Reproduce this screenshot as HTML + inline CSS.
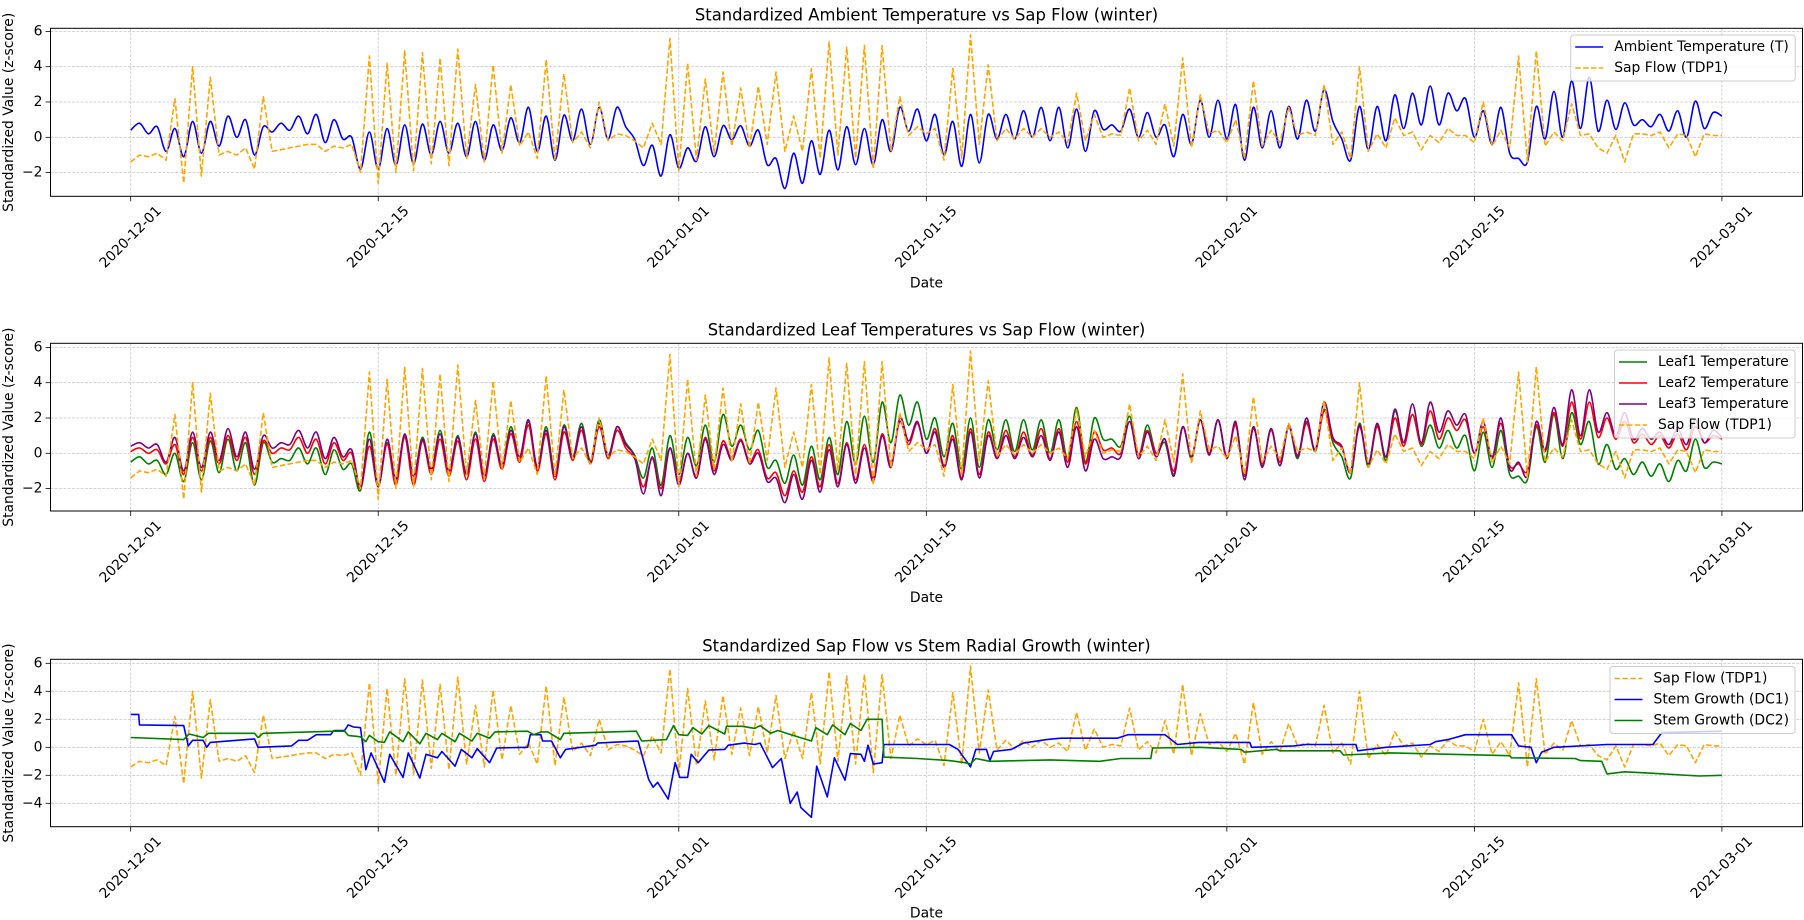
<!DOCTYPE html>
<html><head><meta charset="utf-8"><title>Standardized winter time series</title>
<style>
html,body{margin:0;padding:0;background:#fff;}
svg{display:block;font-family:"DejaVu Sans","Liberation Sans",sans-serif;}
</style></head>
<body>
<svg id="chart" width="1804" height="920" viewBox="0 0 1804 920" xmlns="http://www.w3.org/2000/svg">
<rect x="0" y="0" width="1804" height="920" fill="#fff"/>
</svg>
<script>
// ---------- data (x = day offset from 2020-12-01) ----------
const tickLabels = ["2020-12-01","2020-12-15","2021-01-01","2021-01-15","2021-02-01","2021-02-15","2021-03-01"];
const tickDays = [0,14,31,45,62,76,90];
const stepDays = 0.5;
const ambientT = [0.4,0.8,0.2,0.6,-0.8,0.5,-1.1,0.9,-0.9,0.9,-0.5,1.2,0,1.0,-1.0,0.6,0.3,0.8,0.4,1.2,0.2,1.3,-0.3,1.0,-0.1,0,-1.8,0.3,
-1.8,0.5,-1.6,0.7,-1.5,0.75,-1.0,0.9,-0.9,0.8,-1.1,0.9,-1.3,0.7,-0.75,1.1,-0.3,1.7,-0.8,1.2,-1.3,1.25,-0.2,1.6,-0.4,1.7,-0.1,1.7,0.6,-0.1,
-1.6,-0.45,-2.2,0.15,-1.75,-0.6,-1.35,0.6,-1.1,0.65,-0.15,0.65,-0.5,0.4,-1.55,-1.2,-2.9,-0.9,-2.6,-0.2,-2.1,0.4,-1.85,0.6,-1.55,0.5,-1.55,1.0,-0.8,1.7,0.35,1.6,-0.2,1.3,-1.0,0.9,-1.65,1.3,-1.45,1.3,-0.1,1.3,-0.1,1.5,0,1.7,-0.2,1.7,
-0.6,1.6,-0.8,1.5,0.45,0.7,0.35,1.6,0,1.4,0,0.7,-1.1,1.3,-0.4,2.1,0,2.1,-0.1,1.85,-1.3,1.7,-0.6,1.5,-0.6,1.75,-0.1,2.1,0.35,2.7,0.9,-0.1,-1.3,1.75,-0.7,1.75,-0.2,2.4,0.5,2.5,0.7,2.9,0.7,2.5,1.5,2.2,0,1.5,-0.4,1.7,-0.9,-1.2,-1.4,1.75,-0.1,2.6,0,3.2,0.5,3.4,0.35,2.1,0.45,1.95,0.7,1.0,0.6,1.3,0.35,1.5,0,2.05,0.5,1.4,1.2];
const sapFlow = [-1.4,-1.0,-1.1,-0.9,-1.3,2.2,-2.6,4.0,-2.2,3.4,-1.0,-0.8,-1.0,-0.6,-1.8,2.3,-0.8,-0.7,-0.6,-0.5,-0.4,-0.4,-0.8,-0.5,-0.6,-0.4,-2.0,4.6,
-2.6,4.2,-2.0,4.9,-1.9,4.8,-1.5,4.5,-1.6,5.0,-1.2,3.0,-1.4,4.1,-0.9,3.0,-0.5,0.3,-1.2,4.4,-1.3,3.6,-0.3,0.3,-0.6,2.0,-0.2,0.2,0.1,-0.2,
-0.6,0.8,-0.4,5.6,-1.9,4.2,-1.3,3.3,-0.9,3.7,-0.5,2.8,-0.6,2.9,-0.4,3.7,-0.8,1.2,-0.8,3.9,-1.2,5.4,-1.0,5.1,-1.2,5.2,-1.8,5.2,-0.8,2.3,0.1,0.6,0.2,0.5,-1.3,3.9,-1.2,5.8,-0.4,4.1,-0.2,0.5,-0.1,0.5,0,0.5,0,0.3,
-0.3,2.5,-0.2,1.3,0,0.2,0.1,2.8,-0.2,0.4,-0.4,1.9,-0.5,4.5,-0.6,2.4,0.2,0.4,-0.3,1.0,-1.2,3.2,-0.5,0.4,-0.3,1.7,0.1,0.3,0.1,3.0,-0.4,0.3,-1.2,4.0,-0.8,0.2,-0.6,1.1,0.1,0.3,-0.7,0.1,-0.3,0.5,0.1,0.1,-0.3,2.0,-0.5,0.4,-0.6,4.6,-1.4,4.9,-0.5,0.3,-0.2,1.9,0.1,0.2,-0.6,-0.9,0.1,-1.4,0.2,0.2,0.1,0.3,-0.6,0.2,0.1,-1.1,0.2,0.1,0.1];
const leaf1 = [-0.5,-0.2,-0.6,-0.4,-1.2,0,-1.6,0.6,-1.5,0.7,-1.1,0.8,-1.0,0.6,-1.8,0.6,-0.5,-0.3,-0.4,0.3,-0.6,0.3,-1.2,0.2,-0.9,-0.6,-2.1,1.2,
-1.8,0.6,-1.4,1.0,-1.3,0.9,-0.9,1.3,-1.0,1.0,-1.2,1.2,-1.3,1.1,-0.7,1.5,-0.3,1.8,-0.8,1.5,-1.2,1.6,-0.2,1.7,-0.4,1.9,-0.1,1.5,0.6,-0.1,
-1.4,0.3,-1.8,1.0,-1.2,0.9,-0.7,1.6,-0.5,2.2,0.4,1.6,0.2,1.3,-0.8,-0.4,-1.7,-0.1,-1.8,0.4,-1.5,0.9,-1.2,1.8,-0.6,2.1,-0.5,2.9,0.6,3.3,1.6,2.9,0.8,2.0,-0.2,1.7,-0.9,2.0,-0.8,1.9,0.2,1.9,0.1,1.9,0.2,1.9,0,1.9,
-0.3,2.6,-0.5,2.0,0.8,0.8,0.4,2.1,-0.1,1.6,0,0.6,-1.2,1.5,-0.3,1.9,-0.1,1.9,-0.3,1.7,-1.3,1.5,-0.7,1.4,-0.7,1.5,-0.3,1.8,0.1,2.5,0.6,-0.2,-1.4,1.7,-0.8,1.6,-0.4,2.4,0.6,2.2,0.4,1.6,0.3,1.3,0.3,1.0,-1.0,1.2,-0.8,1.3,-1.2,-1.3,-1.5,1.5,-0.5,2.2,-0.3,2.3,0.5,1.8,-0.6,0.5,-0.9,-0.3,-1.2,-0.5,-1.3,-0.6,-1.6,-0.4,-1.0,0.8,-0.8,-0.5,-0.6];
const leaf2 = [0.1,0.3,0,0.2,-0.6,0.5,-1.2,0.9,-1.0,0.9,-0.6,1.0,-0.4,0.9,-1.2,0.7,0,0.3,0.2,0.9,0,0.8,-0.6,0.6,-0.4,0,-2.0,0.4,
-1.9,0.5,-1.8,0.9,-1.8,0.7,-1.2,0.8,-1.3,0.7,-1.5,0.8,-1.6,0.8,-0.9,1.1,-0.5,1.6,-1.0,1.1,-1.5,1.2,-0.4,1.3,-0.6,1.5,-0.3,1.3,0.3,-0.3,
-1.9,-0.3,-2.0,0.3,-1.6,0,-1.3,0.9,-1.0,0.7,-0.3,0.8,-0.5,0.2,-1.4,-1.1,-2.4,-1.0,-2.2,-0.2,-1.9,0.5,-1.7,0.6,-1.5,0.5,-1.4,1.1,-0.6,1.8,0.5,1.7,0,1.4,-0.7,1.0,-1.4,1.4,-1.2,1.2,-0.2,1.3,-0.2,1.2,-0.1,1.4,-0.3,1.4,
-0.5,1.8,-0.6,1.2,0.2,0.3,0,1.8,-0.1,1.3,0,0.8,-1.0,1.5,-0.2,1.9,0,1.9,-0.2,1.6,-1.2,1.4,-0.6,1.3,-0.5,1.5,-0.1,1.7,0.2,2.4,0.8,0.3,-1.0,1.5,-0.6,1.5,-0.2,2.0,0.4,2.2,0.5,2.4,0.8,2.0,1.3,1.9,0,1.5,-0.2,1.7,-0.7,-0.6,-1.0,1.6,0.1,2.3,0.4,2.9,0.8,2.9,0.9,2.0,0.8,1.8,0.6,1.1,0.5,1.0,0.3,1.1,0.2,1.5,0.6,1.0,0.8];
const leaf3 = [0.4,0.6,0.3,0.5,-0.5,0.9,-1.0,1.2,-0.8,1.2,-0.4,1.4,-0.2,1.2,-0.9,1.0,0.3,0.6,0.5,1.3,0.3,1.2,-0.3,0.9,-0.2,0.2,-1.9,0.8,
-1.9,0.8,-1.5,1.1,-1.3,0.8,-0.9,1.1,-1.0,0.9,-1.2,1.1,-1.3,1.0,-0.7,1.3,-0.2,1.9,-0.8,1.3,-1.3,1.5,-0.3,1.5,-0.5,1.7,-0.2,1.5,0.5,-0.2,
-2.3,-0.2,-2.4,0.3,-1.8,0,-1.4,0.8,-1.2,0.5,-0.4,0.7,-0.6,0,-1.6,-1.4,-2.8,-1.2,-2.6,-0.4,-2.2,0.2,-1.9,0.5,-1.7,0.3,-1.6,1.0,-0.8,2.0,0.7,1.8,0,1.2,-0.8,0.8,-1.5,1.2,-1.4,1.0,-0.3,1.0,-0.3,0.9,-0.2,1.0,-0.4,1.2,
-0.8,1.5,-1.0,0.8,-0.3,-0.2,-0.2,1.8,-0.3,1.2,-0.2,0.8,-1.3,1.5,-0.2,1.9,-0.1,1.9,-0.3,1.8,-1.5,1.5,-0.8,1.4,-0.7,1.6,-0.2,2.0,0.2,2.9,0.9,0.4,-1.1,1.6,-0.6,1.7,-0.2,2.5,0.6,2.8,0.6,2.9,1.2,2.4,1.6,2.2,0,1.8,-0.3,2.0,-0.9,-0.5,-1.3,1.8,0.2,2.6,0.5,3.6,1.0,3.6,1.2,2.3,1.0,2.3,0.8,1.4,0.8,1.2,0.5,1.4,0.5,1.9,0.6,1.3,0.9];
const dc1Days = [0,0.45,0.5,3.0,3.26,3.5,4.1,4.3,4.5,6.0,7.0,7.2,9.1,9.5,10.0,10.5,11.3,11.5,12.1,12.3,12.6,13.0,13.3,13.6,14.35,14.65,15.4,15.7,16.35,16.7,17.35,17.6,18.35,18.7,19.3,19.6,20.3,20.7,22.45,22.6,23.2,23.3,23.8,24.3,24.6,26.3,26.4,28.7,29.3,29.55,29.8,30.4,30.8,31.05,31.5,31.7,32.1,32.7,33.6,33.8,34.7,35.3,35.6,36.3,36.8,37.3,37.7,37.9,38.5,38.8,39.4,39.8,40.4,40.7,41.3,41.5,41.7,42.0,42.5,42.6,46.3,46.8,47.5,47.8,48.4,48.6,48.8,49.8,50.5,51.8,52.6,55.8,56.4,58.5,59.2,60.4,63.3,63.4,65.8,66.5,69.3,69.4,71,73.5,73.8,74.5,75.5,78.1,78.5,79.2,79.5,79.8,80.5,83.5,86.1,86.6,90];
const dc1Values = [2.35,2.35,1.6,1.55,0.1,0.5,0.5,0,0.35,0.5,0.6,0,0.1,0.5,0.5,0.9,0.9,1.2,1.2,1.6,1.45,1.4,-1.6,-0.4,-2.5,-0.5,-2.15,-0.4,-2.2,-0.5,-0.75,-0.3,-1.35,-0.15,-0.75,-0.1,-1.1,-0.05,0,0.9,0.9,0.45,0.45,-0.75,-0.15,0.15,0.3,0.45,-2.3,-2.85,-2.5,-3.7,-1.1,-2.15,-2.15,-0.5,-1.1,-0.2,-0.15,0.15,0.3,0.2,0.3,-1.45,-0.8,-4.0,-3.2,-4.3,-5.0,-1.35,-3.55,-0.75,-2.35,-0.45,-0.5,-1.0,0.15,-1.2,-1.1,0.2,0.2,-0.15,-1.4,-0.15,-0.15,-0.95,-0.3,-0.15,0.3,0.55,0.65,0.65,0.9,0.9,0.2,0.35,0.35,0,0.1,0.2,0.2,-0.25,0,0.2,0.4,0.55,0.9,0.9,0.1,0,-1.1,-0.35,0,0.2,0.2,1.05,1.15];
const dc2Days = [0,3.0,3.3,4.1,4.4,7.0,7.2,7.5,11.5,12.1,12.3,13.0,13.3,13.5,14.0,14.35,14.65,15.4,15.7,16.35,16.7,17.35,17.6,18.35,18.6,19.3,19.6,20.3,20.6,22.45,22.8,23.2,23.6,24.3,24.5,28.6,28.9,30.3,30.7,31.0,31.5,31.8,32.3,32.7,33.6,33.7,34.6,35.3,35.6,36.2,36.6,37.6,38.5,38.75,39.4,39.7,40.4,40.7,41.3,41.65,42.5,42.6,44.5,46.3,47.2,47.5,47.8,48.6,52.0,54.8,56.0,57.7,57.8,60.5,62.8,63.0,64.8,65.0,68.4,68.6,70.5,71.2,78.0,78.1,81.7,82.0,83.2,83.5,84.5,86.0,88.7,90];
const dc2Values = [0.7,0.55,0.95,0.7,1.0,1.0,0.7,1.0,1.15,1.15,0.85,0.75,0.4,0.85,0.4,0.35,1.1,0.4,1.1,0.25,1.0,0.55,1.0,0.4,1.0,0.45,1.0,0.65,1.1,1.15,0.9,1.1,1.1,0.55,1.0,1.15,0.45,0.55,1.55,0.9,0.85,1.4,0.95,1.55,0.95,1.5,1.5,1.35,1.55,1.0,1.2,0.8,0.45,1.4,0.9,1.6,0.9,1.7,1.2,2.0,2.0,-0.7,-0.8,-0.95,-1.1,-1.2,-0.8,-1.0,-0.9,-1.0,-0.8,-0.8,-0.05,0,-0.15,-0.35,-0.15,-0.25,-0.25,-0.55,-0.45,-0.4,-0.6,-0.75,-0.8,-0.95,-1.0,-1.9,-1.75,-1.85,-2.05,-2.0];
const yTicks12 = [-2,0,2,4,6];
const yTicks3 = [-4,-2,0,2,4,6];

// ---------- layout ----------
const NS = "http://www.w3.org/2000/svg";
const svg = document.getElementById("chart");
const AX_L = 50.5, AX_R = 1802.5;
const DAY0_X = 130.7, PX_PER_DAY = 17.68;
function xScale(d){ return DAY0_X + d*PX_PER_DAY; }
const panels = [
  {id:"ambient", top:28.3, bottom:196.3, zeroY:137.3, unit:17.65, ticks:yTicks12, title:"Standardized Ambient Temperature vs Sap Flow (winter)"},
  {id:"leaf", top:343.3, bottom:511, zeroY:453.3, unit:17.65, ticks:yTicks12, title:"Standardized Leaf Temperatures vs Sap Flow (winter)"},
  {id:"growth", top:659.3, bottom:826.7, zeroY:747.3, unit:14.0, ticks:yTicks3, title:"Standardized Sap Flow vs Stem Radial Growth (winter)"}
];
function mk(tag, attrs, parent){
  const e = document.createElementNS(NS, tag);
  for (const k in attrs) e.setAttribute(k, attrs[k]);
  (parent||svg).appendChild(e);
  return e;
}
function seriesPoints(p, days, vals){
  const pts = [];
  for (let i=0;i<vals.length;i++){
    pts.push([xScale(days ? days[i] : i*stepDays), p.zeroY - vals[i]*p.unit]);
  }
  return pts;
}
function linearPath(pts){
  return pts.map(function(q,i){ return (i?"L":"M")+q[0].toFixed(1)+","+q[1].toFixed(1); }).join("");
}
function smoothPath(pts){
  let d = "M"+pts[0][0].toFixed(1)+","+pts[0][1].toFixed(1);
  const k = 0.5/3;
  for (let i=0;i<pts.length-1;i++){
    const p0 = pts[Math.max(0,i-1)], p1 = pts[i], p2 = pts[i+1], p3 = pts[Math.min(pts.length-1,i+2)];
    const c1x = p1[0] + (p2[0]-p0[0])*k, c1y = p1[1] + (p2[1]-p0[1])*k;
    const c2x = p2[0] - (p3[0]-p1[0])*k, c2y = p2[1] - (p3[1]-p1[1])*k;
    d += "C"+c1x.toFixed(1)+","+c1y.toFixed(1)+" "+c2x.toFixed(1)+","+c2y.toFixed(1)+" "+p2[0].toFixed(1)+","+p2[1].toFixed(1);
  }
  return d;
}
const defs = mk("defs", {});
panels.forEach(function(p, pi){
  const g = mk("g", {});
  
  
  const cp = mk("clipPath", {id:"clip-"+p.id}, defs);
  mk("rect", {x:AX_L, y:p.top, width:AX_R-AX_L, height:p.bottom-p.top}, cp);
  const gg = mk("g", {stroke:"#b0b0b0", "stroke-width":"0.8", "stroke-dasharray":"3,1.3", opacity:"0.7"}, g);
  
  
  tickDays.forEach(function(d){
    const x = xScale(d);
    mk("line", {x1:x, x2:x, y1:p.top, y2:p.bottom}, gg);
  });
  p.ticks.forEach(function(v){
    const y = p.zeroY - v*p.unit;
    mk("line", {x1:AX_L, x2:AX_R, y1:y, y2:y}, gg);
  });
  const sg = mk("g", {"clip-path":"url(#clip-"+p.id+")", fill:"none", "stroke-width":"1.6", "stroke-linejoin":"round"}, g);
  
  
  function line(name, days, vals, color, dash, smooth){
    const pts = seriesPoints(p, days, vals);
    const el = mk("path", {d: smooth ? smoothPath(pts) : linearPath(pts), stroke:color}, sg);
    if (dash) el.setAttribute("stroke-dasharray", "5.5,2.4");
    
    
  }
  if (pi===0){
    line("ambient-temperature-line", null, ambientT, "#0000ff", false, true);
    line("sap-flow-line", null, sapFlow, "#ffa500", true, false);
  } else if (pi===1){
    line("leaf1-temperature-line", null, leaf1, "#008000", false, true);
    line("leaf2-temperature-line", null, leaf2, "#ff0000", false, true);
    line("leaf3-temperature-line", null, leaf3, "#800080", false, true);
    line("sap-flow-line", null, sapFlow, "#ffa500", true, false);
  } else {
    line("sap-flow-line", null, sapFlow, "#ffa500", true, false);
    line("stem-growth-dc1-line", dc1Days, dc1Values, "#0000ff", false, false);
    line("stem-growth-dc2-line", dc2Days, dc2Values, "#008000", false, false);
  }
  const fr = mk("rect", {x:AX_L, y:p.top, width:AX_R-AX_L, height:p.bottom-p.top, fill:"none", stroke:"#000", "stroke-width":"1"}, g);
  
  
  p.ticks.forEach(function(v){
    const y = p.zeroY - v*p.unit;
    mk("line", {x1:AX_L-4.9, x2:AX_L, y1:y, y2:y, stroke:"#000", "stroke-width":"0.8"}, g);
    const t = mk("text", {x:AX_L-8, y:y, "text-anchor":"end", "dominant-baseline":"central", "font-size":"13.9", fill:"#000"}, g);
    t.textContent = v<0 ? "\u2212"+Math.abs(v) : String(v);
    
    
  });
  tickDays.forEach(function(d, i){
    const x = xScale(d);
    mk("line", {x1:x, x2:x, y1:p.bottom, y2:p.bottom+4.9, stroke:"#000", "stroke-width":"0.8"}, g);
    const cy = p.bottom + 41;
    const t = mk("text", {x:x, y:cy, "text-anchor":"middle", "dominant-baseline":"central", "font-size":"13.9", fill:"#000", transform:"rotate(-45 "+x+" "+cy+")"}, g);
    t.textContent = tickLabels[i];
    
    
  });
  const tt = mk("text", {x:(AX_L+AX_R)/2, y:p.top-8, "text-anchor":"middle", "font-size":"16.4", fill:"#000"}, g);
  tt.textContent = p.title;
  
  
  const xl = mk("text", {x:(AX_L+AX_R)/2, y:p.bottom+91, "text-anchor":"middle", "font-size":"13.9", fill:"#000"}, g);
  xl.textContent = "Date";
  
  
  const my = (p.top+p.bottom)/2;
  const yl = mk("text", {x:9, y:my, "text-anchor":"middle", "dominant-baseline":"central", "font-size":"13.9", fill:"#000", transform:"rotate(-90 9 "+my+")"}, g);
  yl.textContent = "Standardized Value (z-score)";
  
  
});

const legends = [
  {panel:"ambient", x:1570.7, y:35, w:224.5, entries:[["Ambient Temperature (T)","#0000ff",false],["Sap Flow (TDP1)","#ffa500",true]]},
  {panel:"leaf", x:1614.5, y:350, w:180.5, entries:[["Leaf1 Temperature","#008000",false],["Leaf2 Temperature","#ff0000",false],["Leaf3 Temperature","#800080",false],["Sap Flow (TDP1)","#ffa500",true]]},
  {panel:"growth", x:1610, y:666.5, w:185, entries:[["Sap Flow (TDP1)","#ffa500",true],["Stem Growth (DC1)","#0000ff",false],["Stem Growth (DC2)","#008000",false]]}
];
legends.forEach(function(L){
  const g = mk("g", {});
  
  
  const rowH = 21;
  mk("rect", {x:L.x, y:L.y, width:L.w, height:L.entries.length*rowH+4, rx:3, fill:"#fff", "fill-opacity":"0.8", stroke:"#cccccc", "stroke-width":"1"}, g);
  L.entries.forEach(function(e, i){
    const cy = L.y + 12 + i*rowH;
    const eg = mk("g", {}, g);
    
    
    const ln = mk("line", {x1:L.x+4.5, x2:L.x+32.5, y1:cy, y2:cy, stroke:e[1], "stroke-width":"1.6"}, eg);
    if (e[2]) ln.setAttribute("stroke-dasharray", "5.5,2.4");
    const t = mk("text", {x:L.x+43.5, y:cy, "dominant-baseline":"central", "font-size":"13.9", fill:"#000"}, eg);
    t.textContent = e[0];
  });
});
</script>
</body></html>
